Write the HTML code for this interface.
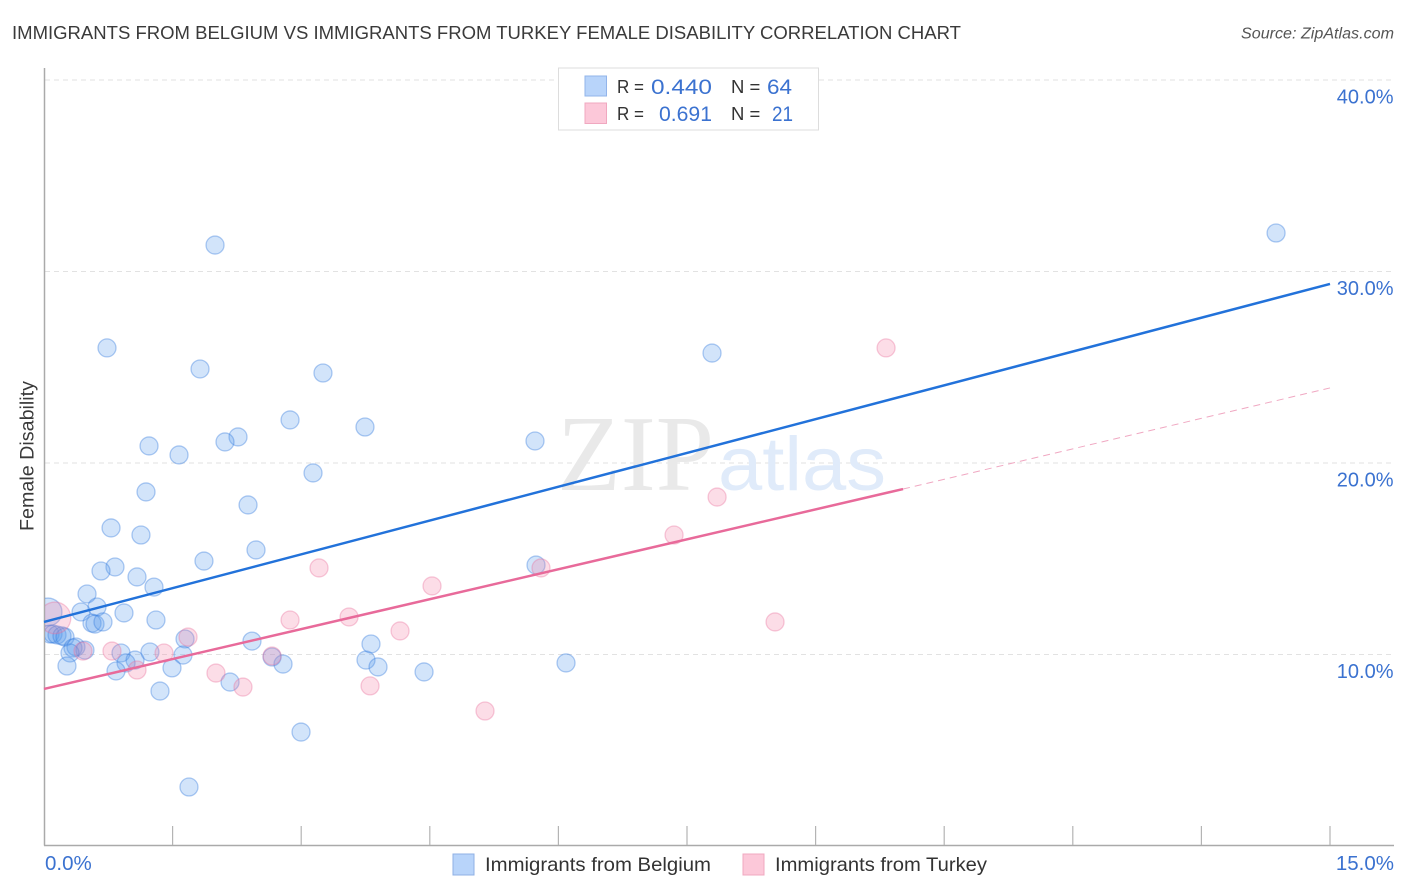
<!DOCTYPE html>
<html lang="en">
<head>
<meta charset="utf-8">
<title>Immigrants from Belgium vs Immigrants from Turkey Female Disability Correlation Chart</title>
<style>
html,body{margin:0;padding:0;background:#fff;width:1406px;height:892px;overflow:hidden}
svg{display:block}
text{font-family:"Liberation Sans",sans-serif}
</style>
</head>
<body>
<svg id="chart" xmlns="http://www.w3.org/2000/svg" width="1406" height="892" viewBox="0 0 1406 892">
  <defs>
    <clipPath id="plot-clip"><rect x="45" y="60" width="1349" height="785"/></clipPath>
  </defs>
  <text x="12" y="39" font-size="18" fill="#3a3a3a" textLength="949" lengthAdjust="spacingAndGlyphs">IMMIGRANTS FROM BELGIUM VS IMMIGRANTS FROM TURKEY FEMALE DISABILITY CORRELATION CHART</text>
  <text x="1241" y="38.5" font-size="15.5" font-style="italic" fill="#555" textLength="153" lengthAdjust="spacingAndGlyphs">Source: ZipAtlas.com</text>

  <g id="grid"></g>

  <g>
    <text x="557" y="490" font-size="108" style="font-family:'Liberation Serif',serif" fill="#e9e9e9" textLength="157" lengthAdjust="spacingAndGlyphs">ZIP</text>
    <text x="718" y="490" font-size="76" fill="#e0ebfa" textLength="168" lengthAdjust="spacingAndGlyphs">atlas</text>
  </g>

  <g id="axes">
    <line x1="44.5" y1="68" x2="44.5" y2="845.5" stroke="#aaa" stroke-width="1.5"/>
    <line x1="44" y1="845.5" x2="1394" y2="845.5" stroke="#aaa" stroke-width="1.5"/>
  </g>
  <g id="ticks"></g>
  <g id="labels"></g>

  <g id="points" clip-path="url(#plot-clip)"></g>
  <g id="trends"></g>

  <text transform="translate(33.5,456) rotate(-90)" font-size="19" fill="#3a3a3a" text-anchor="middle" textLength="150" lengthAdjust="spacingAndGlyphs">Female Disability</text>

  <g>
    <rect x="558.5" y="68" width="260" height="62" fill="#fff" stroke="#ddd" stroke-width="1"/>
    <rect x="585" y="76" width="21.5" height="20" fill="#b8d4fa" stroke="#92b4ea" stroke-width="1"/>
    <rect x="585" y="103" width="21.5" height="20.5" fill="#fcc8d9" stroke="#f0a8c0" stroke-width="1"/>
    <text x="617" y="93" font-size="18.5" fill="#333" textLength="27" lengthAdjust="spacingAndGlyphs">R =</text>
    <text x="651" y="94" font-size="21" fill="#3b72d0" textLength="61" lengthAdjust="spacingAndGlyphs">0.440</text>
    <text x="731" y="93" font-size="18.5" fill="#333">N =</text>
    <text x="767" y="94" font-size="21" fill="#3b72d0" textLength="25" lengthAdjust="spacingAndGlyphs">64</text>
    <text x="617" y="120" font-size="18.5" fill="#333" textLength="27" lengthAdjust="spacingAndGlyphs">R =</text>
    <text x="659" y="121" font-size="21" fill="#3b72d0" textLength="53" lengthAdjust="spacingAndGlyphs">0.691</text>
    <text x="731" y="120" font-size="18.5" fill="#333">N =</text>
    <text x="772" y="121" font-size="21" fill="#3b72d0" textLength="21" lengthAdjust="spacingAndGlyphs">21</text>
  </g>

  <g>
    <rect x="453" y="854" width="21" height="21" fill="#b8d4fa" stroke="#8fb0e4" stroke-width="1"/>
    <text x="485" y="871" font-size="19.5" fill="#333" textLength="226" lengthAdjust="spacingAndGlyphs">Immigrants from Belgium</text>
    <rect x="743" y="854" width="21" height="21" fill="#fcc8d9" stroke="#f0a8c0" stroke-width="1"/>
    <text x="775" y="871" font-size="19.5" fill="#333" textLength="212" lengthAdjust="spacingAndGlyphs">Immigrants from Turkey</text>
  </g>
</svg>
<script>
const yTickValues = [10, 20, 30, 40];
const yTickLabels = ['10.0%', '20.0%', '30.0%', '40.0%'];
const xTickValues = [1.5, 3, 4.5, 6, 7.5, 9, 10.5, 12, 13.5, 15];
const xEndValues = [0, 15];
const xEndLabels = ['0.0%', '15.0%'];

const belgiumX = [14.371,1.995,0.735,7.792,1.820,3.254,2.870,3.744,2.263,2.111,1.225,5.727,1.575,3.138,1.190,2.380,0.782,1.131,2.473,1.866,0.828,0.665,5.739,1.085,1.283,0.502,0.618,0.432,0.933,1.306,0.560,0.595,0.688,0.047,0.070,0.105,0.152,0.210,0.245,1.645,2.426,0.373,0.338,0.478,0.303,0.268,0.898,1.062,0.957,1.236,0.840,1.621,1.493,1.353,2.170,2.998,2.660,2.788,1.691,3.756,3.814,3.896,4.433,6.089];
const belgiumY = [32.01,31.38,26.01,25.74,24.91,24.70,22.25,21.88,21.36,21.10,20.89,21.15,20.42,19.48,18.49,17.81,16.61,16.24,15.46,14.88,14.57,14.36,14.67,14.05,13.52,13.16,12.48,12.22,12.17,11.80,11.64,11.59,11.70,12.22,11.07,11.07,11.02,10.97,10.91,10.81,10.70,10.39,10.34,10.23,10.08,9.40,10.08,9.71,9.56,10.13,9.14,9.97,9.30,8.09,8.56,5.95,9.87,9.50,3.08,9.71,10.55,9.35,9.09,9.56];
const belgiumHeavyIndex = 33;
const belgiumHeavyWeight = 2.4;

const turkeyX = [9.822,7.851,7.349,5.797,3.208,4.526,3.558,2.870,4.153,8.527,1.680,0.793,1.400,1.085,2.006,2.321,3.803,5.144,2.660,0.455,0.128];
const turkeyY = [26.01,18.22,16.24,14.52,14.52,13.58,11.96,11.80,11.23,11.70,10.91,10.18,10.08,9.19,9.03,8.30,8.36,7.05,9.92,10.18,11.91];
const turkeyHeavyIndex = 20;
const turkeyHeavyWeight = 3.1;

const belgiumTrendX = [0, 15];
const belgiumTrendY = [11.70, 29.35];
const turkeyTrendX = [0, 10.02];
const turkeyTrendY = [8.20, 18.64];
const turkeyExtendX = [10.02, 15];
const turkeyExtendY = [18.64, 23.92];

const NS = 'http://www.w3.org/2000/svg';
const xScale = v => 44 + v * (1286 / 15);
const yScale = v => 846 - v * 19.15;
const rScale = w => 9 * Math.sqrt(w);

function make(tag, attrs, parent) {
  const el = document.createElementNS(NS, tag);
  for (const k in attrs) el.setAttribute(k, attrs[k]);
  parent.appendChild(el);
  return el;
}

const grid = document.getElementById('grid');
const ticks = document.getElementById('ticks');
const labels = document.getElementById('labels');
const points = document.getElementById('points');
const trends = document.getElementById('trends');

yTickValues.forEach((v, i) => {
  const line = make('line', {x1: 45, x2: 1394, y1: yScale(v), y2: yScale(v), stroke: '#e2e2e2', 'stroke-width': 1, 'stroke-dasharray': '5 4'}, grid);
  
  
  const t = make('text', {x: 1393.5, y: yScale(v) + 23.5, 'font-size': 20, fill: '#3b72d0', 'text-anchor': 'end'}, labels);
  t.textContent = yTickLabels[i];
  
  
});

xTickValues.forEach(v => {
  const tick = make('line', {x1: xScale(v), x2: xScale(v), y1: 826, y2: 845, stroke: '#b4b4b4', 'stroke-width': 1.2}, ticks);
  
  
});

xEndValues.forEach((v, i) => {
  const anchorEnd = i === xEndValues.length - 1;
  const t = make('text', {x: anchorEnd ? xScale(v) + 64 : xScale(v) + 1, y: 870, 'font-size': 20.5, fill: '#3b72d0', 'text-anchor': anchorEnd ? 'end' : 'start'}, labels);
  t.textContent = xEndLabels[i];
  
  
});

belgiumX.forEach((v, i) => {
  const w = i === belgiumHeavyIndex ? belgiumHeavyWeight : 1;
  const c = make('circle', {cx: xScale(v), cy: yScale(belgiumY[i]), r: rScale(w), fill: 'rgba(90,154,238,0.27)', stroke: 'rgba(50,122,222,0.38)', 'stroke-width': 1.3}, points);
  
  
});

turkeyX.forEach((v, i) => {
  const w = i === turkeyHeavyIndex ? turkeyHeavyWeight : 1;
  const c = make('circle', {cx: xScale(v), cy: yScale(turkeyY[i]), r: rScale(w), fill: 'rgba(244,130,165,0.27)', stroke: 'rgba(232,110,155,0.36)', 'stroke-width': 1.3}, points);
  
  
});

const trendBelgium = make('line', {x1: xScale(belgiumTrendX[0]), y1: yScale(belgiumTrendY[0]), x2: xScale(belgiumTrendX[1]), y2: yScale(belgiumTrendY[1]), stroke: '#2272da', 'stroke-width': 2.5}, trends);



const trendTurkey = make('line', {x1: xScale(turkeyTrendX[0]), y1: yScale(turkeyTrendY[0]), x2: xScale(turkeyTrendX[1]), y2: yScale(turkeyTrendY[1]), stroke: '#e86a9a', 'stroke-width': 2.5}, trends);



const trendExtension = make('line', {x1: xScale(turkeyExtendX[0]), y1: yScale(turkeyExtendY[0]), x2: xScale(turkeyExtendX[1]), y2: yScale(turkeyExtendY[1]), stroke: '#f0a8c2', 'stroke-width': 1, 'stroke-dasharray': '7 5'}, trends);


</script>
</body>
</html>
